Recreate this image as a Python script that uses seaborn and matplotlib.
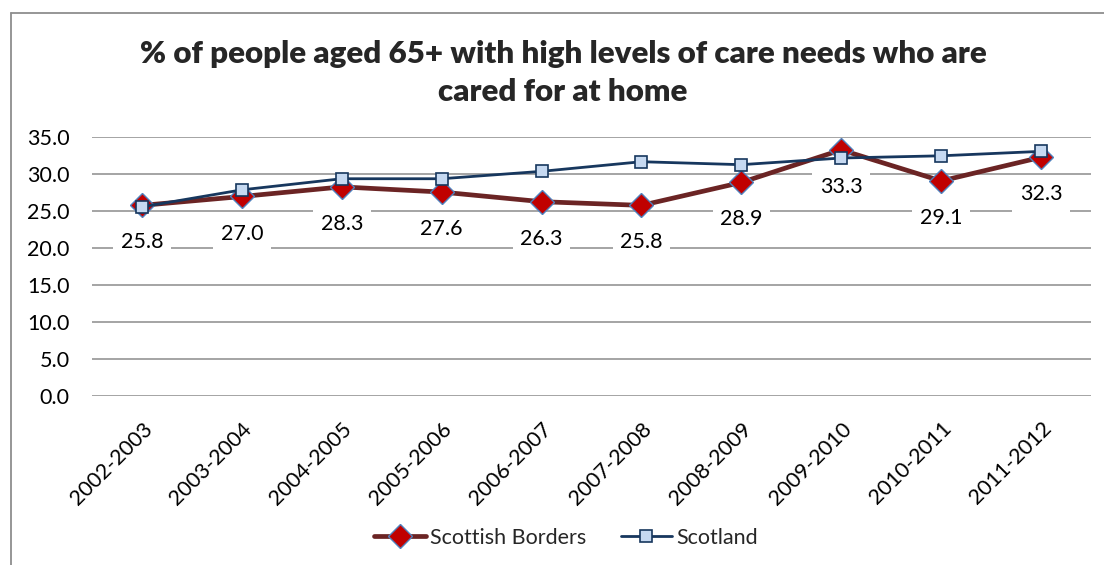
import matplotlib
matplotlib.use("Agg")
import matplotlib.pyplot as plt
from matplotlib.lines import Line2D
from matplotlib.ticker import FormatStrFormatter
import seaborn as sns
import pandas as pd

# Financial years shown on the category axis
years = ["2002-2003", "2003-2004", "2004-2005", "2005-2006", "2006-2007",
         "2007-2008", "2008-2009", "2009-2010", "2010-2011", "2011-2012"]

# % of people aged 65+ with high care needs cared for at home
borders = [25.8, 27.0, 28.3, 27.6, 26.3, 25.8, 28.9, 33.3, 29.1, 32.3]
scotland = [25.6, 27.9, 29.4, 29.4, 30.4, 31.7, 31.3, 32.2, 32.5, 33.1]

series_names = ["Scottish Borders", "Scotland"]
title_text = "% of people aged 65+ with high levels of care needs who are\ncared for at home"

sns.set_theme(style="white")
plt.rcParams["font.family"] = ["Lato", "DejaVu Sans"]

df = pd.DataFrame({
    "year": years * 2,
    "pos": list(range(len(years))) * 2,
    "value": borders + scotland,
    "series": [series_names[0]] * len(years) + [series_names[1]] * len(years),
})

fig = plt.figure(figsize=(11.04, 5.65), dpi=100)
ax = fig.add_axes([92 / 1104, 1 - 396.3 / 565, (1091 - 92) / 1104, (396.3 - 137.3) / 565])

red_line = "#6B2424"
navy = "#17375E"

sns.lineplot(data=df[df.series == series_names[0]], x="pos", y="value", ax=ax,
             color=red_line, linewidth=3.4, marker="D", markersize=12.5,
             markerfacecolor="#C00000", markeredgecolor="#4F81BD",
             markeredgewidth=1.0, sort=False, label=series_names[0], zorder=3)
sns.lineplot(data=df[df.series == series_names[1]], x="pos", y="value", ax=ax,
             color=navy, linewidth=2.0, marker="s", markersize=8.5,
             markerfacecolor="#C6D9F1", markeredgecolor=navy,
             markeredgewidth=1.2, sort=False, label=series_names[1], zorder=4)

# Data labels for the Scottish Borders series
for i, v in enumerate(borders):
    ax.annotate(f"{v:.1f}", xy=(i, v), xytext=(0, -37), textcoords="offset pixels",
                ha="center", va="center", fontsize=15.5, color="black",
                bbox=dict(boxstyle="square,pad=0.35", fc="white", ec="none"),
                zorder=2)

ax.set_xlim(-0.5, len(years) - 0.5)
ax.set_ylim(0, 35)
ax.set_yticks(range(0, 36, 5))
ax.yaxis.set_major_formatter(FormatStrFormatter("%.1f"))
ax.set_xticks(range(len(years)))
ax.set_xticklabels(years, rotation=45, ha="right", rotation_mode="anchor")
ax.tick_params(axis="both", length=0, labelsize=15.5, colors="black")
ax.tick_params(axis="y", pad=16)
ax.tick_params(axis="x", pad=16)
ax.set_xlabel("")
ax.set_ylabel("")
ax.grid(axis="y", color="#8C8C8C", linewidth=1.1, zorder=0)
ax.set_axisbelow(True)
for s in ax.spines.values():
    s.set_visible(False)

ax.legend(loc="center", bbox_to_anchor=(566 / 1104, 1 - 538 / 565),
          bbox_transform=fig.transFigure, ncol=2, frameon=False,
          fontsize=15.5, handlelength=2.4, columnspacing=1.6, handletextpad=0.2)

fig.text(563 / 1104, 1 - 73 / 565, title_text, ha="center", va="center",
         fontsize=22.5, fontweight="heavy", linespacing=1.42)

# Chart area border (left and top edges)
fig.add_artist(Line2D([11 / 1104, 11 / 1104], [-0.05, 1 - 13 / 565],
                      transform=fig.transFigure, color="#8E8E8E", linewidth=1.3))
fig.add_artist(Line2D([11 / 1104, 1.05], [1 - 13 / 565, 1 - 13 / 565],
                      transform=fig.transFigure, color="#8E8E8E", linewidth=1.3))

fig.savefig("out.png", dpi=100)
